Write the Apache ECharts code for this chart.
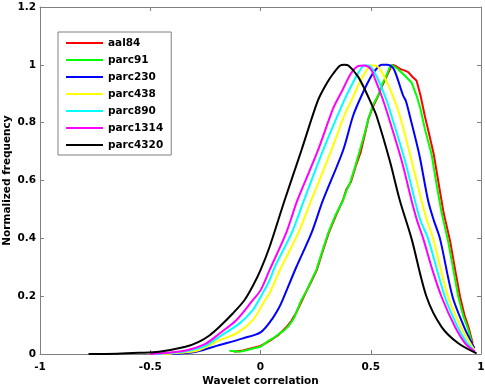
<!DOCTYPE html>
<html>
<head>
<meta charset="utf-8">
<script src="https://cdn.jsdelivr.net/npm/echarts@6/dist/echarts.min.js"></script>
<style>html,body{margin:0;padding:0;background:#fff;}#c{width:485px;height:388px;}</style>
</head>
<body>
<div id="c"></div>
<script>
var seriesNames = ['aal84', 'parc91', 'parc230', 'parc438', 'parc890', 'parc1314', 'parc4320'];
var seriesColors = ['#ff0000', '#00ff00', '#0000ff', '#ffff00', '#00ffff', '#ff00ff', '#000000'];
var xTicks = [-1, -0.5, 0, 0.5, 1];
var yTicks = [0, 0.2, 0.4, 0.6, 0.8, 1, 1.2];

var aal84 = [[-0.12,0.008],[-0.08,0.012],[-0.04,0.02],[0,0.028],[0.03,0.04],[0.05,0.05],[0.08,0.065],[0.1,0.08],[0.12,0.095],[0.14,0.115],[0.16,0.14],[0.185,0.18],[0.21,0.22],[0.23,0.25],[0.255,0.29],[0.28,0.35],[0.31,0.42],[0.34,0.475],[0.375,0.535],[0.39,0.57],[0.41,0.595],[0.43,0.645],[0.455,0.70],[0.475,0.765],[0.49,0.815],[0.51,0.855],[0.535,0.895],[0.55,0.925],[0.575,0.965],[0.59,0.99],[0.60,1.0],[0.615,0.995],[0.635,0.985],[0.655,0.98],[0.67,0.975],[0.69,0.958],[0.708,0.945],[0.726,0.893],[0.745,0.824],[0.765,0.76],[0.786,0.69],[0.81,0.58],[0.83,0.49],[0.86,0.39],[0.883,0.29],[0.905,0.198],[0.925,0.135],[0.943,0.094],[0.962,0.038]];
var parc91 = [[-0.141,0.011],[-0.095,0.008],[-0.06,0.014],[-0.035,0.019],[0,0.025],[0.02,0.036],[0.041,0.048],[0.06,0.055],[0.086,0.071],[0.105,0.08],[0.124,0.094],[0.14,0.11],[0.155,0.129],[0.185,0.186],[0.21,0.22],[0.225,0.245],[0.253,0.29],[0.28,0.355],[0.306,0.416],[0.34,0.48],[0.374,0.531],[0.39,0.566],[0.405,0.589],[0.43,0.65],[0.45,0.703],[0.475,0.77],[0.488,0.81],[0.51,0.86],[0.533,0.893],[0.55,0.93],[0.571,0.962],[0.585,0.99],[0.594,1.0],[0.605,0.995],[0.624,0.985],[0.655,0.962],[0.685,0.939],[0.708,0.893],[0.725,0.85],[0.745,0.78],[0.776,0.69],[0.80,0.58],[0.821,0.49],[0.851,0.39],[0.875,0.29],[0.897,0.198],[0.92,0.13],[0.938,0.094],[0.958,0.042]];
var parc230 = [[-0.4,0.0],[-0.292,0.008],[-0.186,0.031],[-0.08,0.054],[0.0,0.075],[0.049,0.117],[0.086,0.163],[0.10,0.186],[0.162,0.30],[0.23,0.416],[0.283,0.531],[0.374,0.703],[0.42,0.824],[0.458,0.893],[0.503,0.962],[0.53,0.99],[0.55,1.0],[0.575,1.0],[0.6,0.99],[0.617,0.962],[0.647,0.893],[0.659,0.876],[0.677,0.824],[0.72,0.69],[0.76,0.531],[0.786,0.462],[0.814,0.399],[0.871,0.198],[0.923,0.094],[0.95,0.05],[0.97,0.02]];
var parc438 = [[-0.45,0.0],[-0.36,0.004],[-0.277,0.014],[-0.186,0.048],[-0.11,0.071],[-0.035,0.117],[0.02,0.186],[0.041,0.21],[0.094,0.30],[0.17,0.416],[0.23,0.531],[0.321,0.703],[0.38,0.824],[0.412,0.876],[0.45,0.94],[0.48,0.98],[0.50,0.998],[0.52,0.998],[0.55,0.975],[0.60,0.893],[0.632,0.824],[0.685,0.669],[0.73,0.531],[0.755,0.462],[0.783,0.399],[0.851,0.198],[0.909,0.094],[0.945,0.045],[0.97,0.014]];
var parc890 = [[-0.48,0.0],[-0.4,0.004],[-0.32,0.012],[-0.25,0.028],[-0.186,0.06],[-0.095,0.106],[-0.035,0.152],[-0.008,0.186],[0.041,0.255],[0.064,0.30],[0.14,0.416],[0.197,0.531],[0.283,0.703],[0.379,0.876],[0.42,0.94],[0.45,0.98],[0.47,0.998],[0.49,0.998],[0.52,0.97],[0.564,0.893],[0.594,0.824],[0.655,0.669],[0.70,0.531],[0.725,0.462],[0.76,0.399],[0.836,0.198],[0.894,0.094],[0.935,0.04],[0.97,0.01]];
var parc1314 = [[-0.5,0.0],[-0.42,0.004],[-0.34,0.012],[-0.25,0.035],[-0.186,0.071],[-0.11,0.117],[-0.035,0.186],[0.0,0.22],[0.041,0.29],[0.117,0.42],[0.167,0.531],[0.26,0.703],[0.33,0.85],[0.37,0.91],[0.41,0.97],[0.44,0.995],[0.47,0.998],[0.50,0.985],[0.52,0.95],[0.549,0.893],[0.579,0.824],[0.64,0.669],[0.685,0.531],[0.71,0.462],[0.738,0.399],[0.78,0.29],[0.821,0.198],[0.882,0.094],[0.93,0.035],[0.973,0.008]];
var parc4320 = [[-0.78,0.0],[-0.65,0.001],[-0.55,0.004],[-0.46,0.008],[-0.34,0.025],[-0.28,0.042],[-0.23,0.065],[-0.186,0.094],[-0.126,0.14],[-0.073,0.186],[-0.035,0.235],[0.0,0.29],[0.041,0.37],[0.109,0.531],[0.185,0.703],[0.26,0.876],[0.298,0.933],[0.33,0.97],[0.36,0.997],[0.38,1.0],[0.40,0.997],[0.44,0.962],[0.47,0.92],[0.50,0.87],[0.526,0.824],[0.586,0.669],[0.632,0.531],[0.685,0.399],[0.753,0.198],[0.821,0.094],[0.897,0.037],[0.98,0.002]];

var seriesData = [aal84, parc91, parc230, parc438, parc890, parc1314, parc4320];

var FONT = 'DejaVu Sans';
var AX = '#808080';
var chart = echarts.init(document.getElementById('c'), null, {renderer: 'canvas'});

var series = seriesNames.map(function (n, i) {
  return {
    name: n, type: 'line', data: seriesData[i],
    xAxisIndex: 0, yAxisIndex: 0,
    showSymbol: false, symbol: 'none',
    smooth: i < 2 ? false : 0.3,
    lineStyle: {color: seriesColors[i], width: 2},
    itemStyle: {color: seriesColors[i]},
    z: 2 + i
  };
});

function axisCommon(extra) {
  var base = {
    type: 'value',
    axisLine: {show: true, onZero: false, lineStyle: {color: AX, width: 1}},
    axisTick: {show: true, inside: true, length: 4, lineStyle: {color: AX}},
    splitLine: {show: false}
  };
  for (var k in extra) base[k] = extra[k];
  return base;
}

var labelStyle = {fontFamily: FONT, fontWeight: 'bold', fontSize: 10.5, color: '#000'};

var option = {
  animation: false,
  backgroundColor: '#ffffff',
  grid: {left: 40, right: 4, top: 7, bottom: 34, containLabel: false, outerBoundsMode: 'none'},
  legend: {
    orient: 'vertical', left: 58, top: 32,
    data: seriesNames,
    icon: 'rect', itemWidth: 37, itemHeight: 2, itemGap: 3,
    padding: [4, 8, 3, 8],
    backgroundColor: '#ffffff', borderColor: AX, borderWidth: 1,
    textStyle: {fontFamily: FONT, fontWeight: 'bold', fontSize: 10.5, color: '#000', lineHeight: 14}
  },
  xAxis: [
    axisCommon({
      min: xTicks[0], max: xTicks[xTicks.length - 1], interval: 0.5, position: 'bottom',
      name: 'Wavelet correlation', nameLocation: 'middle', nameGap: 22, nameMoveOverlap: false,
      nameTextStyle: labelStyle,
      axisLabel: {fontFamily: FONT, fontWeight: 'bold', fontSize: 10.5, color: '#000', margin: 8}
    }),
    axisCommon({
      min: xTicks[0], max: xTicks[xTicks.length - 1], interval: 0.5, position: 'top',
      axisLabel: {show: false}
    })
  ],
  yAxis: [
    axisCommon({
      min: yTicks[0], max: yTicks[yTicks.length - 1], interval: 0.2, position: 'left',
      name: 'Normalized frequency', nameLocation: 'middle', nameGap: 27, nameMoveOverlap: false,
      nameTextStyle: labelStyle,
      axisLabel: {fontFamily: FONT, fontWeight: 'bold', fontSize: 10.5, color: '#000', margin: 4}
    }),
    axisCommon({
      min: yTicks[0], max: yTicks[yTicks.length - 1], interval: 0.2, position: 'right',
      axisLabel: {show: false}
    })
  ],
  series: series
};
chart.setOption(option);
</script>
</body>
</html>
